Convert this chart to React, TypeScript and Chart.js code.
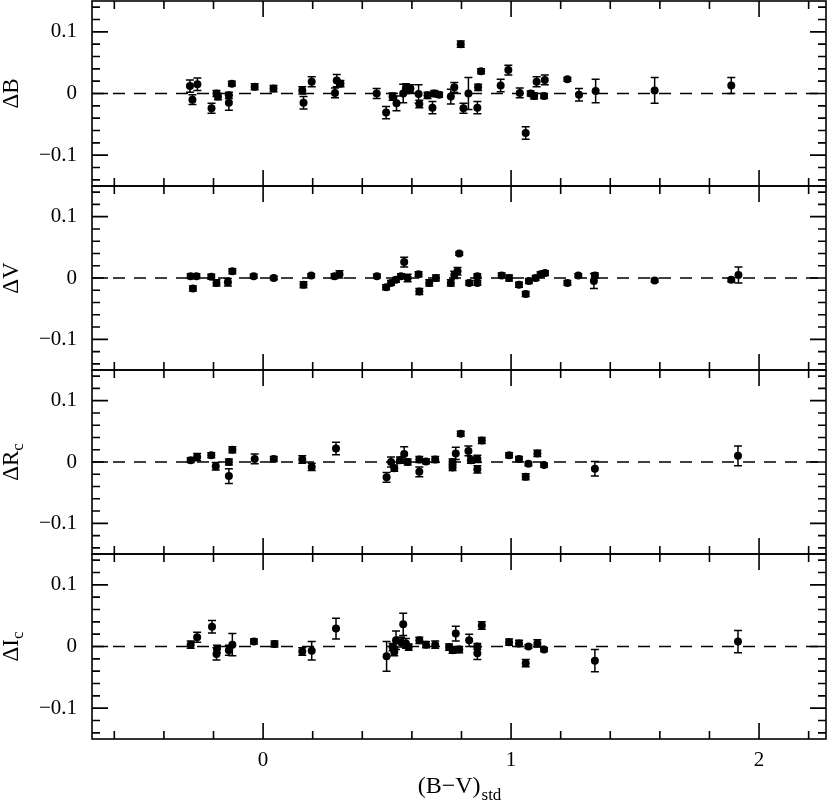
import React, { useEffect, useRef } from 'react';
import { Chart, registerables } from 'chart.js';

Chart.register(...registerables);

// ---------------- data ----------------
const X_MIN = -0.69;
const X_MAX = 2.27;
const Y_MIN = -0.15;
const Y_MAX = 0.15;

const xTickLabels = [0, 1, 2];
const xMinorTicks = [-0.6, -0.4, -0.2, 0.2, 0.4, 0.6, 0.8, 1.2, 1.4, 1.6, 1.8, 2.2];
const yTickLabels = [-0.1, 0, 0.1];
const yMinorTicks = [-0.14, -0.12, -0.08, -0.06, -0.04, -0.02, 0.02, 0.04, 0.06, 0.08, 0.12, 0.14];

// Delta B
const bX = [-0.295, -0.285, -0.265, -0.208, -0.188, -0.182, -0.138, -0.138, -0.126, -0.034, 0.042, 0.158, 0.163, 0.196, 0.290, 0.297, 0.312, 0.458, 0.496, 0.522, 0.538, 0.565, 0.576, 0.594, 0.627, 0.630, 0.663, 0.683, 0.690, 0.710, 0.757, 0.771, 0.797, 0.808, 0.828, 0.864, 0.867, 0.879, 0.958, 0.989, 1.035, 1.059, 1.079, 1.093, 1.103, 1.133, 1.136, 1.227, 1.274, 1.341, 1.579, 1.888];
const bY = [0.012, -0.010, 0.015, -0.024, 0.000, -0.005, -0.003, -0.015, 0.016, 0.011, 0.008, 0.005, -0.015, 0.019, 0.001, 0.021, 0.016, 0.000, -0.031, -0.005, -0.016, 0.000, 0.008, 0.008, -0.001, -0.017, -0.003, -0.023, 0.000, -0.002, -0.005, 0.010, 0.080, -0.024, 0.000, -0.023, 0.010, 0.036, 0.013, 0.038, 0.001, -0.064, 0.000, -0.004, 0.019, -0.004, 0.022, 0.023, -0.002, 0.004, 0.005, 0.013];
const bErr = [0.010, 0.008, 0.010, 0.008, 0.005, 0.005, 0.005, 0.012, 0.004, 0.005, 0.005, 0.006, 0.010, 0.008, 0.008, 0.010, 0.005, 0.008, 0.010, 0.006, 0.012, 0.015, 0.008, 0.006, 0.015, 0.006, 0.005, 0.010, 0.005, 0.004, 0.012, 0.008, 0.005, 0.008, 0.026, 0.010, 0.005, 0.004, 0.010, 0.008, 0.008, 0.010, 0.004, 0.005, 0.008, 0.004, 0.008, 0.003, 0.010, 0.019, 0.021, 0.013];

// Delta V
const vX = [-0.292, -0.283, -0.269, -0.209, -0.188, -0.142, -0.124, -0.038, 0.043, 0.163, 0.194, 0.288, 0.308, 0.459, 0.496, 0.516, 0.536, 0.556, 0.569, 0.583, 0.627, 0.630, 0.670, 0.697, 0.757, 0.771, 0.784, 0.791, 0.831, 0.864, 0.864, 0.962, 0.992, 1.032, 1.059, 1.072, 1.099, 1.119, 1.137, 1.227, 1.271, 1.334, 1.338, 1.579, 1.888, 1.917];
const vY = [0.003, -0.017, 0.003, 0.002, -0.008, -0.007, 0.011, 0.003, 0.000, -0.011, 0.004, 0.003, 0.006, 0.003, -0.015, -0.008, -0.003, 0.003, 0.026, 0.000, 0.006, -0.022, -0.008, 0.000, -0.008, 0.005, 0.011, 0.040, -0.008, 0.003, -0.008, 0.004, 0.000, -0.011, -0.026, -0.005, 0.000, 0.006, 0.008, -0.008, 0.004, -0.005, 0.004, -0.004, -0.003, 0.005];
const vErr = [0.004, 0.004, 0.004, 0.004, 0.005, 0.006, 0.004, 0.003, 0.003, 0.005, 0.003, 0.004, 0.006, 0.003, 0.004, 0.004, 0.004, 0.004, 0.008, 0.006, 0.004, 0.005, 0.005, 0.005, 0.005, 0.006, 0.006, 0.003, 0.004, 0.004, 0.004, 0.004, 0.005, 0.004, 0.004, 0.004, 0.004, 0.004, 0.004, 0.004, 0.003, 0.012, 0.004, 0.003, 0.003, 0.013];

// Delta Rc
const rX = [-0.292, -0.266, -0.209, -0.191, -0.138, -0.138, -0.124, -0.034, 0.043, 0.158, 0.196, 0.294, 0.498, 0.516, 0.529, 0.552, 0.569, 0.583, 0.630, 0.630, 0.657, 0.694, 0.764, 0.764, 0.777, 0.797, 0.828, 0.838, 0.864, 0.864, 0.882, 0.992, 1.032, 1.059, 1.070, 1.106, 1.133, 1.338, 1.915];
const rY = [0.003, 0.008, 0.011, -0.007, 0.000, -0.023, 0.020, 0.005, 0.005, 0.004, -0.008, 0.022, -0.025, 0.000, -0.010, 0.003, 0.013, 0.000, 0.004, -0.016, 0.001, 0.004, 0.000, -0.009, 0.014, 0.046, 0.018, 0.003, 0.005, -0.012, 0.035, 0.011, 0.005, -0.024, -0.003, 0.014, -0.005, -0.011, 0.010];
const rErr = [0.004, 0.006, 0.004, 0.006, 0.005, 0.012, 0.005, 0.008, 0.004, 0.006, 0.006, 0.010, 0.008, 0.008, 0.005, 0.005, 0.012, 0.005, 0.005, 0.008, 0.004, 0.005, 0.005, 0.005, 0.010, 0.004, 0.008, 0.005, 0.006, 0.006, 0.005, 0.004, 0.004, 0.005, 0.003, 0.005, 0.003, 0.012, 0.016];

// Delta Ic
const iX = [-0.292, -0.266, -0.206, -0.188, -0.186, -0.138, -0.124, -0.037, 0.046, 0.158, 0.196, 0.294, 0.498, 0.522, 0.529, 0.536, 0.556, 0.565, 0.576, 0.587, 0.630, 0.657, 0.694, 0.750, 0.764, 0.777, 0.791, 0.831, 0.864, 0.864, 0.882, 0.992, 1.032, 1.059, 1.070, 1.106, 1.133, 1.338, 1.915];
const iY = [0.003, 0.015, 0.032, -0.012, -0.004, -0.006, 0.003, 0.008, 0.004, -0.008, -0.007, 0.029, -0.016, -0.001, -0.009, 0.010, 0.007, 0.036, 0.005, -0.001, 0.010, 0.003, 0.003, -0.001, -0.006, 0.021, -0.005, 0.010, 0.000, -0.011, 0.034, 0.007, 0.005, -0.027, 0.000, 0.005, -0.005, -0.023, 0.008];
const iErr = [0.006, 0.008, 0.010, 0.010, 0.006, 0.008, 0.018, 0.004, 0.005, 0.006, 0.015, 0.017, 0.024, 0.006, 0.006, 0.015, 0.008, 0.018, 0.008, 0.005, 0.005, 0.005, 0.006, 0.005, 0.005, 0.012, 0.005, 0.010, 0.005, 0.010, 0.006, 0.005, 0.005, 0.006, 0.003, 0.006, 0.003, 0.018, 0.018];

const panelTitles = ['ΔB', 'ΔV', 'ΔR', 'ΔI'];
const panelSubs = ['', '', 'c', 'c'];
const xTitleMain = '(B−V)';
const xTitleSub = 'std';

const PANELS = [
  { xs: bX, ys: bY, errs: bErr },
  { xs: vX, ys: vY, errs: vErr },
  { xs: rX, ys: rY, errs: rErr },
  { xs: iX, ys: iY, errs: iErr },
];

// ---------------- layout / style ----------------
const W = 830;
const PAGE_H = 804;
const PLOT_LEFT = 92;
const PLOT_RIGHT = 828;
const PANEL_EDGES = [1, 186, 370, 554, 739];
const PAD = 12;
const FONT = "'Liberation Serif', 'DejaVu Serif', serif";
const FONT_SIZE = 21;
const TITLE_SIZE = 23;
const SUB_SIZE = 17;

Chart.defaults.font.family = FONT;
Chart.defaults.font.size = FONT_SIZE;
Chart.defaults.color = '#000';

const framePlugin = {
  id: 'frameTicks',
  afterDraw(chart: any) {
    const { ctx, chartArea: a, scales } = chart;
    const xs = scales.x;
    const ys = scales.y;
    ctx.save();
    ctx.strokeStyle = '#000';
    ctx.lineWidth = 1.6;
    ctx.strokeRect(a.left, a.top, a.right - a.left, a.bottom - a.top);
    ctx.beginPath();
    const xt = (v: number, len: number) => {
      const px = xs.getPixelForValue(v);
      ctx.moveTo(px, a.top);
      ctx.lineTo(px, a.top + len);
      ctx.moveTo(px, a.bottom);
      ctx.lineTo(px, a.bottom - len);
    };
    const yt = (v: number, len: number) => {
      const py = ys.getPixelForValue(v);
      ctx.moveTo(a.left, py);
      ctx.lineTo(a.left + len, py);
      ctx.moveTo(a.right, py);
      ctx.lineTo(a.right - len, py);
    };
    xMinorTicks.forEach((v) => xt(v, 8));
    xTickLabels.forEach((v) => xt(v, 16));
    yMinorTicks.forEach((v) => yt(v, 8));
    yTickLabels.forEach((v) => yt(v, 16));
    ctx.stroke();
    ctx.restore();
  },
};

const errorBarPlugin = {
  id: 'errorBars',
  afterDatasetsDraw(chart: any) {
    const { ctx, scales } = chart;
    const xs = scales.x;
    const ys = scales.y;
    ctx.save();
    ctx.strokeStyle = '#000';
    ctx.lineWidth = 1.5;
    ctx.beginPath();
    chart.data.datasets.forEach((ds: any) => {
      if (!ds.errors) return;
      ds.data.forEach((pt: any, k: number) => {
        const e = ds.errors[k];
        const px = xs.getPixelForValue(pt.x);
        const pTop = ys.getPixelForValue(pt.y + e);
        const pBot = ys.getPixelForValue(pt.y - e);
        ctx.moveTo(px, pTop);
        ctx.lineTo(px, pBot);
        ctx.moveTo(px - 4, pTop);
        ctx.lineTo(px + 4, pTop);
        ctx.moveTo(px - 4, pBot);
        ctx.lineTo(px + 4, pBot);
      });
    });
    ctx.stroke();
    ctx.restore();
  },
};

function makeTitlePlugin(index: number, isLast: boolean) {
  return {
    id: 'titles',
    afterDraw(chart: any) {
      const { ctx, chartArea: a } = chart;
      ctx.save();
      ctx.fillStyle = '#000';
      ctx.textBaseline = 'alphabetic';
      ctx.textAlign = 'left';
      const main = panelTitles[index];
      const sub = panelSubs[index];
      ctx.font = `${TITLE_SIZE}px ${FONT}`;
      const wMain = ctx.measureText(main).width;
      ctx.font = `${SUB_SIZE}px ${FONT}`;
      const wSub = sub ? ctx.measureText(sub).width : 0;
      const total = wMain + wSub;
      ctx.translate(18, (a.top + a.bottom) / 2);
      ctx.rotate(-Math.PI / 2);
      ctx.font = `${TITLE_SIZE}px ${FONT}`;
      ctx.fillText(main, -total / 2, 0);
      if (sub) {
        ctx.font = `${SUB_SIZE}px ${FONT}`;
        ctx.fillText(sub, -total / 2 + wMain, 5);
      }
      ctx.setTransform(1, 0, 0, 1, 0, 0);
      if (isLast) {
        ctx.font = `${TITLE_SIZE + 1}px ${FONT}`;
        const wm = ctx.measureText(xTitleMain).width;
        ctx.font = `${SUB_SIZE}px ${FONT}`;
        const ws = ctx.measureText(xTitleSub).width;
        const cx = (a.left + a.right) / 2;
        const base = a.bottom + 54;
        const x0 = cx - (wm + ws) / 2;
        ctx.font = `${TITLE_SIZE + 1}px ${FONT}`;
        ctx.fillText(xTitleMain, x0, base);
        ctx.font = `${SUB_SIZE}px ${FONT}`;
        ctx.fillText(xTitleSub, x0 + wm + 1, base + 7);
      }
      ctx.restore();
    },
  };
}

function fmtY(v: number) {
  if (Math.abs(v) < 1e-9) return '0';
  return v < 0 ? '−' + String(Math.abs(v)) : String(v);
}

function Panel({ index }: { index: number }) {
  const ref = useRef<HTMLCanvasElement | null>(null);
  const isLast = index === 3;
  const top = PANEL_EDGES[index] - PAD;
  const plotH = PANEL_EDGES[index + 1] - PANEL_EDGES[index];
  const height = isLast ? PAGE_H - top : plotH + 2 * PAD;
  const xAxisH = PAGE_H - PANEL_EDGES[4];

  useEffect(() => {
    const p = PANELS[index];
    const points = p.xs.map((x, k) => ({ x, y: p.ys[k] }));
    const chart = new Chart(ref.current as HTMLCanvasElement, {
      type: 'scatter',
      data: {
        datasets: [
          {
            type: 'line',
            data: [
              { x: X_MIN, y: 0 },
              { x: X_MAX, y: 0 },
            ],
            borderColor: '#000',
            borderWidth: 1.5,
            borderDash: [12, 9],
            pointRadius: 0,
            fill: false,
          } as any,
          {
            data: points,
            errors: p.errs,
            backgroundColor: '#000',
            borderColor: '#000',
            borderWidth: 0,
            pointRadius: 4,
            pointHoverRadius: 4,
          } as any,
        ],
      },
      options: {
        animation: false,
        responsive: false,
        maintainAspectRatio: false,
        events: [],
        layout: {
          padding: { left: 0, right: W - PLOT_RIGHT, top: PAD, bottom: isLast ? 0 : PAD },
        },
        plugins: {
          legend: { display: false },
          tooltip: { enabled: false },
        },
        scales: {
          x: {
            type: 'linear',
            min: X_MIN,
            max: X_MAX,
            display: isLast,
            grid: { display: false, drawTicks: false },
            border: { display: false },
            ticks: {
              padding: 9,
              font: { family: FONT, size: FONT_SIZE },
              callback: (v: any) => String(v),
            },
            afterBuildTicks: (s: any) => {
              s.ticks = xTickLabels.map((v) => ({ value: v }));
            },
            afterFit: (s: any) => {
              if (isLast) s.height = xAxisH;
              s.paddingLeft = 0;
              s.paddingRight = 0;
            },
          },
          y: {
            type: 'linear',
            min: Y_MIN,
            max: Y_MAX,
            grid: { display: false, drawTicks: false },
            border: { display: false },
            ticks: {
              padding: 15,
              font: { family: FONT, size: FONT_SIZE },
              callback: (v: any) => fmtY(Number(v)),
            },
            afterBuildTicks: (s: any) => {
              s.ticks = yTickLabels.map((v) => ({ value: v }));
            },
            afterFit: (s: any) => {
              s.width = PLOT_LEFT;
              s.paddingTop = 0;
              s.paddingBottom = 0;
            },
          },
        },
      } as any,
      plugins: [framePlugin, errorBarPlugin, makeTitlePlugin(index, isLast)],
    });
    return () => chart.destroy();
  }, [index]);

  return (
    <canvas
      ref={ref}
      width={W}
      height={height}
      style={{ position: 'absolute', left: 0, top, width: W, height, display: 'block' }}
    />
  );
}

export default function App() {
  return (
    <div style={{ position: 'absolute', left: 0, top: 0, width: W, height: PAGE_H, background: '#fff' }}>
      {[0, 1, 2, 3].map((i) => (
        <Panel key={i} index={i} />
      ))}
    </div>
  );
}
